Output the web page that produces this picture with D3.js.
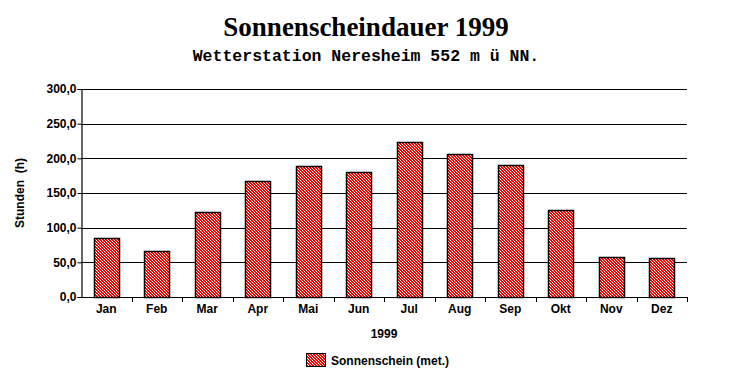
<!DOCTYPE html>
<html><head><meta charset="utf-8">
<script src="https://cdn.jsdelivr.net/npm/d3@7"></script>
<style>body{margin:0;background:#fff}svg{display:block}</style>
</head><body>
<script>
const months = ["Jan","Feb","Mar","Apr","Mai","Jun","Jul","Aug","Sep","Okt","Nov","Dez"];
const sunshine = [85, 66, 122, 167, 188.5, 180, 223, 206, 190, 125, 57, 56];
const yTicks = [0, 50, 100, 150, 200, 250, 300];
const title = "Sonnenscheindauer 1999";
const subtitle = "Wetterstation Neresheim 552 m ü NN.";
const yTitle = "Stunden  (h)";
const xTitle = "1999";
const legendLabel = "Sonnenschein (met.)";

const W = 732, H = 384;
const m = {left: 81, right: 687, top: 89, bottom: 297};
const svg = d3.select("body").append("svg").attr("width", W).attr("height", H);

const defs = svg.append("defs");
const P = 3;
const pat = defs.append("pattern").attr("id","hatch").attr("patternUnits","userSpaceOnUse")
  .attr("width",P).attr("height",P);
pat.append("rect").attr("width",P).attr("height",P).attr("fill","#ff0000");
pat.selectAll("rect.w").data(d3.range(P)).join("rect").attr("class","w")
  .attr("x", d => d).attr("y", d => d).attr("width",1).attr("height",1).attr("fill","#fff");

const x = d3.scaleBand().domain(months).range([m.left, m.right]).paddingInner(0.5).paddingOuter(0.25);
const y = d3.scaleLinear().domain([0, 300]).range([m.bottom, m.top]);
const font = "'Liberation Sans', Arial, sans-serif";

// gridlines
svg.append("g").selectAll("line").data(yTicks.filter(d => d > 0)).join("line")
  .attr("x1", m.left).attr("x2", m.right)
  .attr("y1", d => Math.round(y(d)) + 0.5).attr("y2", d => Math.round(y(d)) + 0.5)
  .attr("stroke", "#000").attr("stroke-width", 1.2);

// y axis
const ya = svg.append("g").attr("transform", `translate(${m.left + 0.5},0)`)
  .call(d3.axisLeft(y).tickValues(yTicks).tickSize(4).tickPadding(1)
    .tickFormat(d => d3.format(".1f")(d).replace(".", ",")));
ya.select(".domain").attr("stroke","#000").attr("stroke-width",1.2);
ya.selectAll(".tick line").attr("stroke","#000");
ya.selectAll("text").attr("font-family", font).attr("font-weight","bold").attr("font-size",12).attr("fill","#000");

// bars
svg.append("g").selectAll("rect").data(sunshine).join("rect")
  .attr("x", (d, i) => Math.round(x(months[i])) + 0.5)
  .attr("y", d => Math.round(y(d)) + 0.5)
  .attr("width", Math.round(x.bandwidth()))
  .attr("height", d => Math.round(y(0)) - Math.round(y(d)))
  .attr("fill", "url(#hatch)").attr("stroke", "#000").attr("stroke-width", 1.5);

// x axis
const step = x.step();
const xb = svg.append("g");
xb.append("line").attr("x1", m.left).attr("x2", m.right).attr("y1", m.bottom + 0.5).attr("y2", m.bottom + 0.5)
  .attr("stroke","#000").attr("stroke-width",1.2);
xb.selectAll("line.t").data(d3.range(1, months.length + 1)).join("line").attr("class","t")
  .attr("x1", i => Math.round(m.left + i * step) + 0.5).attr("x2", i => Math.round(m.left + i * step) + 0.5)
  .attr("y1", m.bottom).attr("y2", m.bottom + 5).attr("stroke","#000");
xb.selectAll("text").data(months).join("text")
  .attr("x", d => x(d) + x.bandwidth() / 2).attr("y", 313)
  .attr("text-anchor","middle").attr("font-family", font).attr("font-weight","bold").attr("font-size",12)
  .text(d => d);

// titles
svg.append("text").attr("x", 366).attr("y", 36).attr("text-anchor","middle")
  .attr("font-family","'Liberation Serif','Times New Roman',serif").attr("font-weight","bold").attr("font-size",27)
  .text(title);
svg.append("text").attr("x", 366).attr("y", 61).attr("text-anchor","middle")
  .attr("font-family","'Liberation Mono','Courier New',monospace").attr("font-weight","bold").attr("font-size",16.5)
  .text(subtitle);
svg.append("text").attr("transform","translate(24,193) rotate(-90)").attr("text-anchor","middle")
  .attr("font-family", font).attr("font-weight","bold").attr("font-size",12)
  .style("white-space","pre").text(yTitle);
svg.append("text").attr("x", 384).attr("y", 338).attr("text-anchor","middle")
  .attr("font-family", font).attr("font-weight","bold").attr("font-size",12).text(xTitle);

// legend
const lg = svg.append("g");
lg.append("rect").attr("x", 306.5).attr("y", 353.5).attr("width", 19).attr("height", 13)
  .attr("fill","url(#hatch)").attr("stroke","#000").attr("stroke-width",1);
lg.append("text").attr("x", 331).attr("y", 365)
  .attr("font-family", font).attr("font-weight","bold").attr("font-size",12).text(legendLabel);
</script>
</body></html>
